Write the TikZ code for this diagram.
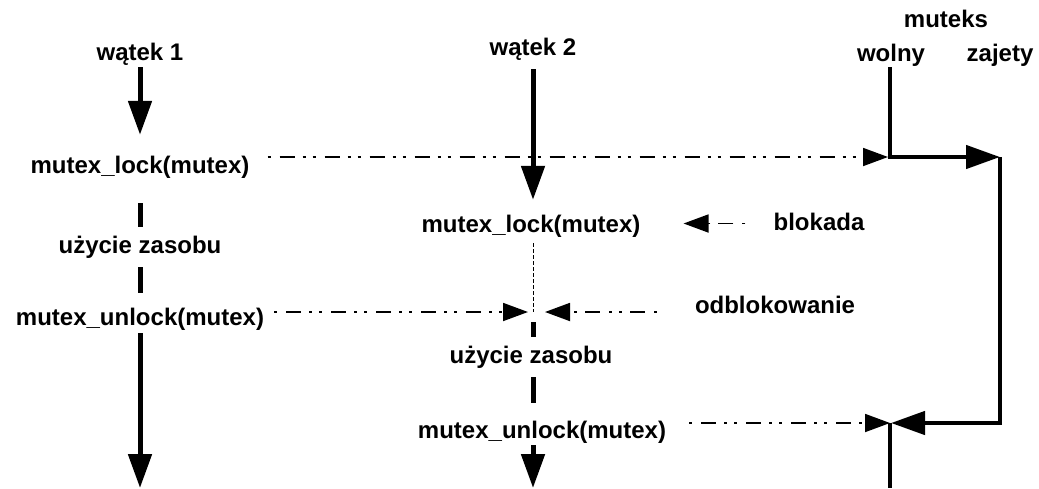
\documentclass[tikz,border=0pt]{standalone}
\usepackage{fontspec}
\setmainfont{Liberation Sans}
\usetikzlibrary{arrows.meta}
\tikzset{% change default arrow tips
    >={Triangle[length=34pt,width=23pt]}
}

\begin{document}
\begin{tikzpicture}[x=1pt,y=-1pt]
    		\newcommand{\xa}{140} % lifeline of thread 1
    		\newcommand{\xb}{533} % lifeline of thread 2
    		\newcommand{\xf}{890} % mutex free
    		\newcommand{\xz}{1000} % mutex taken

    		% styles
    		\tikzset{
    			lbl/.style={
    				font=\fontsize{24}{28}\selectfont\bfseries,
    				inner sep=0pt,
    				anchor=base,
    				text height=18pt,
    				text depth=5pt
    				},
    			life/.style={line width=5pt},
    			state/.style={line width=4.5pt},
    			msg/.style={
    				line width=1.8pt,
    				dash pattern=on 3pt off 9pt on 15pt off 8pt on 3pt off 7pt,
    				-{Triangle[length=25pt,width=18pt]}
    				},
    			wait/.style={line width=1pt, dash pattern=on 4pt off 2pt}
    		}

    		\useasboundingbox (0,0) rectangle (1039,488);

    		% thread 1
    		\node[lbl] (t1) at (\xa,60) {wątek 1};
    		\node[lbl] (lock1) at (\xa,173) {mutex\_lock(mutex)};
    		\node[lbl] (use1) at (\xa,253) {użycie zasobu};
    		\node[lbl] (unlock1) at (\xa,325) {mutex\_unlock(mutex)};
    		\coordinate (end1) at (\xa,488);

    		% thread 2
    		\node[lbl] (t2) at (\xb,55) {wątek 2};
    		\node[lbl] (lock2) at (531,232) {mutex\_lock(mutex)};
    		\coordinate (wake) at (\xb,312);
    		\node[lbl] (use2) at (531,363) {użycie zasobu};
    		\node[lbl] (unlock2) at (542,438) {mutex\_unlock(mutex)};
    		\coordinate (end2) at (\xb,488);

    		% mutex states
    		\node[lbl] (mtx) at (946,27) {muteks};
    		\node[lbl] (free) at (891,61) {wolny};
    		\node[lbl] (busy) at (1000,61) {zajety};
    		\coordinate (f0) at (\xf,157);
    		\coordinate (z0) at (\xz,157);
    		\coordinate (z1) at (\xz,423);
    		\coordinate (f1) at (\xf,423);
    		\coordinate (f2) at (\xf,488);

    		\node[lbl] (blok) at (819,230) {blokada};
    		\node[lbl] (odblok) at (775,313) {odblokowanie};

    		% lifeline 1
    		\draw[life,->,shorten <=2pt,shorten >=20pt] (t1.south) -- (lock1.north);
    		\draw[life,shorten <=25pt,shorten >=8pt] (lock1.south) -- (use1.north);
    		\draw[life,shorten <=9pt,shorten >=14pt] (use1.south) -- (unlock1.north);
    		\draw[life,->,shorten <=3pt] (unlock1.south) -- (end1);

    		% lifeline 2
    		\draw[life,->,shorten <=9pt,shorten >=14pt] (t2.south) -- (t2.south |- lock2.north);
    		\draw[wait,shorten <=6pt] (wake |- lock2.south) -- (wake);
    		\draw[life,shorten <=10pt,shorten >=8pt] (wake) -- (wake |- use2.north);
    		\draw[life,shorten <=9pt,shorten >=17pt] (wake |- use2.south) -- (wake |- unlock2.north);
    		\draw[life,->,shorten <=2pt] (wake |- unlock2.south) -- (end2);

    		% mutex
    		\draw[state,->,shorten <=1pt] (f0 |- free.south) -- (f0) -- (z0);
    		\draw[state,->,shorten >=1pt] (z0) -- (z1) -- (f1);
    		\draw[state] (f1) -- (f2);

    		% messages
    		\draw[msg,shorten <=18pt,shorten >=2pt] (lock1.east |- f0) -- (f0);
    		\draw[msg,shorten <=10pt,shorten >=5pt] (unlock1.east |- wake) -- (wake);
    		\draw[msg,shorten <=38pt,shorten >=12pt] (odblok.west |- wake) -- (wake);
    		\draw[msg,shorten <=28pt,shorten >=43pt] (blok.west) -- (blok.west -| lock2.east);
    		\draw[msg,shorten <=23pt] (unlock2.east |- f1) -- (f1);
\end{tikzpicture}
\end{document}
